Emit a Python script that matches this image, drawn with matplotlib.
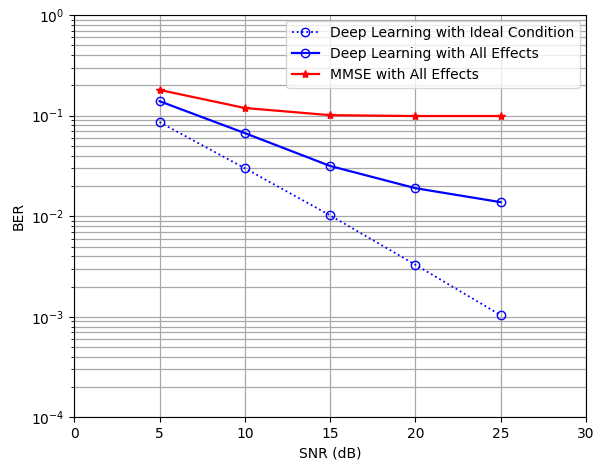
import matplotlib
matplotlib.use('Agg')
import matplotlib.pyplot as plt

snr = [5, 10, 15, 20, 25]
ber_ideal = [0.086, 0.030, 0.0102, 0.0033, 0.00104]
ber_dl_all = [0.139, 0.067, 0.0316, 0.019, 0.0138]
ber_mmse = [0.18, 0.119, 0.101, 0.099, 0.099]

plt.rcParams['font.size'] = 10

fig, ax = plt.subplots(figsize=(5.99, 4.68), dpi=100)
fig.subplots_adjust(left=0.124, right=0.978, top=0.968, bottom=0.108)

ax.semilogy(snr, ber_ideal, 'b:o', markerfacecolor='none', markersize=6,
            linewidth=1.3, label='Deep Learning with Ideal Condition')
ax.semilogy(snr, ber_dl_all, 'b-o', markerfacecolor='none', markersize=6,
            linewidth=1.6, label='Deep Learning with All Effects')
ax.semilogy(snr, ber_mmse, 'r-*', markersize=6,
            linewidth=1.6, label='MMSE with All Effects')

ax.set_xlim(0, 30)
ax.set_ylim(1e-4, 1)
ax.grid(True, which='both', color='#a8a8a8', linewidth=0.9)
ax.set_xlabel('SNR (dB)')
ax.set_ylabel('BER')
ax.legend(loc='upper right', fontsize=10, borderaxespad=0.4)

plt.savefig('out.png')
